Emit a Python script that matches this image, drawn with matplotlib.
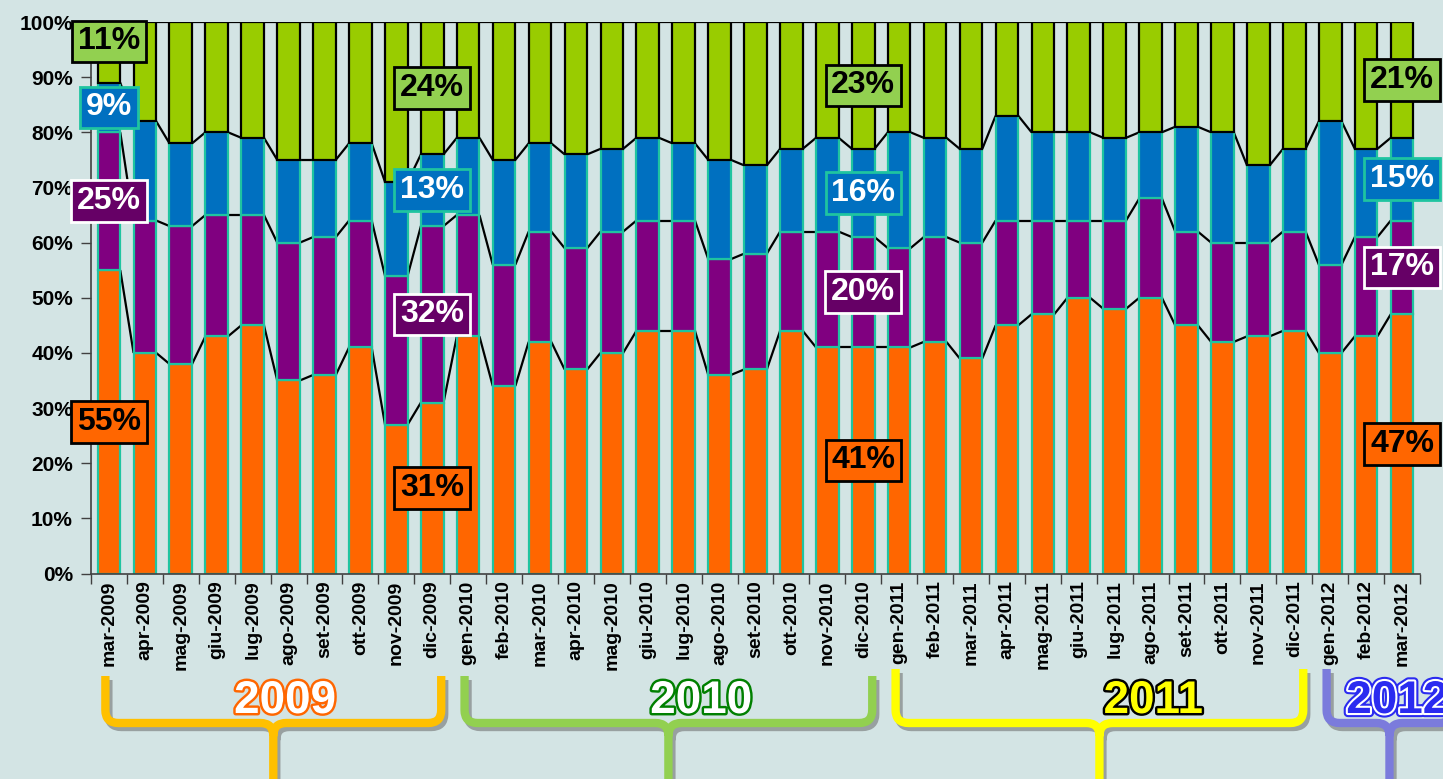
import numpy as np
import matplotlib
matplotlib.use("Agg")
import matplotlib.pyplot as plt
from matplotlib.path import Path
from matplotlib.patches import PathPatch
import matplotlib.patheffects as pe

# ---- data -------------------------------------------------------------
months = [
    "mar-2009", "apr-2009", "mag-2009", "giu-2009", "lug-2009", "ago-2009",
    "set-2009", "ott-2009", "nov-2009", "dic-2009",
    "gen-2010", "feb-2010", "mar-2010", "apr-2010", "mag-2010", "giu-2010",
    "lug-2010", "ago-2010", "set-2010", "ott-2010", "nov-2010", "dic-2010",
    "gen-2011", "feb-2011", "mar-2011", "apr-2011", "mag-2011", "giu-2011",
    "lug-2011", "ago-2011", "set-2011", "ott-2011", "nov-2011", "dic-2011",
    "gen-2012", "feb-2012", "mar-2012",
]
orange = [55, 40, 38, 43, 45, 35, 36, 41, 27, 31,
          43, 34, 42, 37, 40, 44, 44, 36, 37, 44, 41, 41,
          41, 42, 39, 45, 47, 50, 48, 50, 45, 42, 43, 44,
          40, 43, 47]
purple = [25, 24, 25, 22, 20, 25, 25, 23, 27, 32,
          22, 22, 20, 22, 22, 20, 20, 21, 21, 18, 21, 20,
          18, 19, 21, 19, 17, 14, 16, 18, 17, 18, 17, 18,
          16, 18, 17]
blue = [9, 18, 15, 15, 14, 15, 14, 14, 17, 13,
        14, 19, 16, 17, 15, 15, 14, 18, 16, 15, 17, 16,
        21, 18, 17, 19, 16, 16, 15, 12, 19, 20, 14, 15,
        26, 16, 15]
green = [11, 18, 22, 20, 21, 25, 25, 22, 29, 24,
         21, 25, 22, 24, 23, 21, 22, 25, 26, 23, 21, 23,
         20, 21, 23, 17, 20, 20, 21, 20, 19, 20, 26, 23,
         18, 23, 21]

labelled_months = ["mar-2009", "dic-2009", "dic-2010", "mar-2012"]
years = ["2009", "2010", "2011", "2012"]
y_ticks = [0, 10, 20, 30, 40, 50, 60, 70, 80, 90, 100]

# ---- style ------------------------------------------------------------
plt.rcParams["font.family"] = ["Liberation Sans", "DejaVu Sans"]
plt.rcParams["font.weight"] = "bold"

W, H = 1443, 779
BG = "#D3E4E4"
fig = plt.figure(figsize=(W / 100, H / 100), dpi=100)
fig.patch.set_facecolor(BG)

ax = fig.add_axes([91 / W, 1 - 573.5 / H, (1420 - 91) / W, (573.5 - 22) / H])
ax.set_facecolor("none")

x = np.arange(len(months))
bw = 0.63
series = [orange, purple, blue, green]
fills = ["#FF6600", "#800080", "#0070C0", "#99CC00"]
edges = ["#1FC4A0", "#1FC4A0", "#1FC4A0", "#000000"]

bottom = np.zeros(len(months))
bottoms, tops = [], []
for vals, fc, ec in zip(series, fills, edges):
    vals = np.asarray(vals, dtype=float)
    ax.bar(x, vals, bw, bottom=bottom, color=fc, edgecolor=ec,
           linewidth=1.6, zorder=2)
    bottoms.append(bottom.copy())
    bottom = bottom + vals
    tops.append(bottom.copy())

# series lines joining the segment tops between neighbouring bars
for top in tops:
    for i in range(len(x) - 1):
        ax.plot([x[i] + bw / 2, x[i + 1] - bw / 2], [top[i], top[i + 1]],
                color="black", lw=1.6, zorder=1.5, solid_capstyle="butt")

# value boxes
box_fill = ["#FF6600", "#660066", "#0070C0", "#92D050"]
box_edge = ["#000000", "#FFFFFF", "#1FC4A0", "#000000"]
box_text = ["#000000", "#FFFFFF", "#FFFFFF", "#000000"]
nudge = {(0, 3): 2.0}
for m in labelled_months:
    i = months.index(m)
    for s, vals in enumerate(series):
        v = vals[i]
        yc = bottoms[s][i] + v / 2 + nudge.get((i, s), 0.0)
        ax.text(x[i], yc, f"{v}%", ha="center", va="center", fontsize=23,
                fontweight="bold", color=box_text[s], zorder=5,
                bbox=dict(boxstyle="square,pad=0.18", fc=box_fill[s],
                          ec=box_edge[s], lw=2.0))

# axes
ax.set_xlim(-0.5, len(months) - 0.5)
ax.set_ylim(0, 100)
ax.set_yticks(y_ticks)
ax.set_yticklabels([f"{t}%" for t in y_ticks], fontsize=15, fontweight="bold")
ax.set_xticks(x)
ax.set_xticklabels(months, rotation=90, fontsize=14, fontweight="bold")
ax.set_xticks(np.arange(-0.5, len(months), 1.0), minor=True)
ax.tick_params(axis="x", which="major", length=0, pad=5)
ax.tick_params(axis="x", which="minor", length=7, width=1, color="#404040")
ax.tick_params(axis="y", length=7, width=1, color="#404040", pad=6)
for side in ("top", "right"):
    ax.spines[side].set_visible(False)
for side in ("left", "bottom"):
    ax.spines[side].set_color("#404040")
    ax.spines[side].set_linewidth(1.2)

# ---- year brackets under the month labels --------------------------------
ov = fig.add_axes([0, 0, 1, 1])
ov.set_xlim(0, W)
ov.set_ylim(H, 0)
ov.axis("off")
ov.patch.set_alpha(0)


def px(idx):
    return ax.transData.transform((idx, 0))[0]


year_groups = []
for yname in years:
    idx = [k for k, m in enumerate(months) if m.endswith(yname)]
    year_groups.append((idx[0], idx[-1]))

bracket_colors = ["#FFC000", "#92D050", "#FFFF00", "#7B7BDC"]
spans = []
for (a, b), yname in zip(year_groups, years):
    left = px(a - 0.1)
    right = px(b + 0.25) if yname != "2012" else px(a + 3.4)
    spans.append((left, right))
tops_y = [676, 676, 669, 669]
h_y, tip_y, r = 723, 782, 13
text_dx = [12, 33, 54, 8]
text_styles = [
    dict(color="white", effects=[pe.Stroke(linewidth=3.5, foreground="#FF6600"), pe.Normal()]),
    dict(color="white", effects=[pe.Stroke(linewidth=3.5, foreground="#008000"), pe.Normal()]),
    dict(color="#FFFF00", effects=[pe.Stroke(linewidth=3.5, foreground="black"), pe.Normal()]),
    dict(color="#2B2BF0", effects=[pe.Stroke(linewidth=6, foreground="#2B2BF0"),
                                   pe.Stroke(linewidth=3, foreground="white"), pe.Normal()]),
]


def bracket_path(left, right, top):
    c = (left + right) / 2
    verts = [(left, top), (left, h_y - r), (left, h_y), (left + r, h_y),
             (c - r, h_y), (c, h_y), (c, h_y + r), (c, tip_y),
             (c, h_y + r), (c, h_y), (c + r, h_y),
             (right - r, h_y), (right, h_y), (right, h_y - r), (right, top)]
    codes = [Path.MOVETO, Path.LINETO, Path.CURVE3, Path.CURVE3,
             Path.LINETO, Path.CURVE3, Path.CURVE3, Path.LINETO,
             Path.MOVETO, Path.CURVE3, Path.CURVE3,
             Path.LINETO, Path.CURVE3, Path.CURVE3, Path.LINETO]
    return Path(verts, codes)


for (left, right), top, col, yname, dx, st in zip(spans, tops_y, bracket_colors,
                                                  years, text_dx, text_styles):
    p = bracket_path(left, right, top)
    shadow = PathPatch(p.transformed(matplotlib.transforms.Affine2D().translate(3, 4)),
                       fill=False, ec="#8A8F8F", lw=6, alpha=0.8,
                       capstyle="butt", joinstyle="round", zorder=1)
    ov.add_patch(shadow)
    ov.add_patch(PathPatch(p, fill=False, ec=col, lw=6, capstyle="butt",
                           joinstyle="round", zorder=2))
    t = ov.text((left + right) / 2 + dx, 696, yname, ha="center",
                va="center_baseline", fontsize=33, fontweight="bold",
                color=st["color"], zorder=3)
    t.set_path_effects(st["effects"])

fig.savefig("out.png", dpi=100, facecolor=fig.get_facecolor())
